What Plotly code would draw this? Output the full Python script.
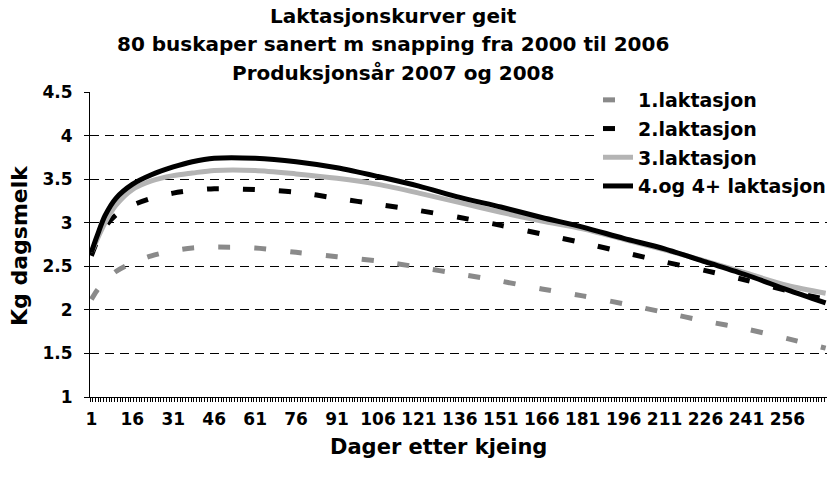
import plotly.graph_objects as go

# ---- data ----
days = [1, 3, 6, 10, 16, 23, 31, 38, 46, 61, 76, 91, 106, 121, 136, 151,
        166, 181, 196, 211, 226, 241, 256, 270]

lakt1 = [2.12, 2.22, 2.33, 2.44, 2.54, 2.62, 2.68, 2.71, 2.72, 2.71, 2.66, 2.61,
         2.56, 2.49, 2.41, 2.33, 2.24, 2.16, 2.07, 1.97, 1.87, 1.78, 1.67, 1.56]
lakt2 = [2.62, 2.78, 2.95, 3.09, 3.20, 3.28, 3.34, 3.37, 3.39, 3.38, 3.35, 3.28,
         3.21, 3.14, 3.06, 2.97, 2.87, 2.77, 2.66, 2.55, 2.45, 2.34, 2.22, 2.12]
lakt3 = [2.66, 2.80, 3.00, 3.20, 3.38, 3.48, 3.54, 3.57, 3.60, 3.60, 3.56, 3.51,
         3.44, 3.34, 3.23, 3.12, 3.02, 2.93, 2.81, 2.69, 2.56, 2.42, 2.28, 2.19]
lakt4 = [2.66, 2.84, 3.08, 3.28, 3.44, 3.55, 3.64, 3.70, 3.74, 3.74, 3.70, 3.63,
         3.53, 3.42, 3.29, 3.18, 3.06, 2.95, 2.82, 2.70, 2.55, 2.40, 2.23, 2.08]

names = ["1.laktasjon", "2.laktasjon", "3.laktasjon", "4.og 4+ laktasjon"]
x_tickvals = [1, 16, 31, 46, 61, 76, 91, 106, 121, 136, 151, 166, 181, 196,
              211, 226, 241, 256]
y_tickvals = [1, 1.5, 2, 2.5, 3, 3.5, 4, 4.5]
title_lines = ["Laktasjonskurver geit",
               "80 buskaper sanert m snapping fra 2000 til 2006",
               "Produksjonsår 2007 og 2008"]

# ---- layout geometry (screen pixels) ----
W, H = 827, 482
PLOT_L, PLOT_R, PLOT_T, PLOT_B = 90, 827, 92, 397
L, R, T, B = PLOT_L, W - PLOT_R, PLOT_T, H - PLOT_B
PW, PH = PLOT_R - PLOT_L, PLOT_B - PLOT_T


def px(xs):
    return (xs - PLOT_L) / PW


def py(ys):
    return (PLOT_B - ys) / PH


FONT = "DejaVu Sans"

styles = [
    dict(color="#8a8a8a", width=5, dash="12px,24px"),
    dict(color="#000000", width=5, dash="12px,24px"),
    dict(color="#b4b4b4", width=5),
    dict(color="#000000", width=5),
]
series = [lakt1, lakt2, lakt3, lakt4]

fig = go.Figure()
for i, (nm, vals, st) in enumerate(zip(names, series, styles)):
    fig.add_trace(go.Scatter(
        x=days, y=vals, mode="lines", name=nm, legendgroup=f"g{i}",
        line=dict(shape="spline", smoothing=0.8, **st),
    ))

annotations = []
for k, line in enumerate(title_lines):
    annotations.append(dict(
        text=line, x=px(393), y=py(16 + 28.5 * k), xref="paper", yref="paper",
        xanchor="center", yanchor="middle", showarrow=False,
        font=dict(family=FONT, size=20, color="black", weight="bold")))
annotations.append(dict(
    text="Dager etter kjeing", x=px(438), y=py(447), xref="paper", yref="paper",
    xanchor="center", yanchor="middle", showarrow=False,
    font=dict(family=FONT, size=21, color="black", weight="bold")))
annotations.append(dict(
    text="Kg dagsmelk", x=px(20), y=py(246), xref="paper", yref="paper",
    xanchor="center", yanchor="middle", showarrow=False, textangle=-90,
    font=dict(family=FONT, size=22, color="black", weight="bold")))

fig.update_layout(
    width=W, height=H,
    margin=dict(l=L, r=R, t=T, b=B, autoexpand=False),
    paper_bgcolor="white", plot_bgcolor="white",
    font=dict(family=FONT, size=17, color="black", weight="bold"),
    showlegend=True,
    legend=dict(x=px(598), y=py(81), xanchor="left", yanchor="top",
                bgcolor="white", borderwidth=0, tracegroupgap=1,
                font=dict(family=FONT, size=19, color="black", weight="bold")),
    annotations=annotations,
    xaxis=dict(range=[0.5, 270.5], tickmode="array", tickvals=x_tickvals,
               ticks="", showgrid=False, zeroline=False,
               showline=True, linecolor="black", linewidth=1,
               ticklabelstandoff=7,
               tickfont=dict(family=FONT, size=17, color="black", weight="bold"),
               minor=dict(tickmode="linear", tick0=0.5, dtick=1, ticks="outside",
                          ticklen=4, tickwidth=1, tickcolor="black", showgrid=False)),
    yaxis=dict(range=[1, 4.5], tickmode="array", tickvals=y_tickvals,
               ticktext=[f"{v:g}" for v in y_tickvals],
               ticks="outside", ticklen=5, tickcolor="black",
               showgrid=True, gridcolor="black", gridwidth=1, griddash="9px,6px",
               zeroline=False, showline=True, linecolor="black", linewidth=1,
               ticklabelstandoff=8,
               tickfont=dict(family=FONT, size=17, color="black", weight="bold")),
)

fig.write_html(
    "out.html",
    config={"displayModeBar": False},
    post_script="document.body.style.margin='0px';document.body.style.overflow='hidden';",
)
